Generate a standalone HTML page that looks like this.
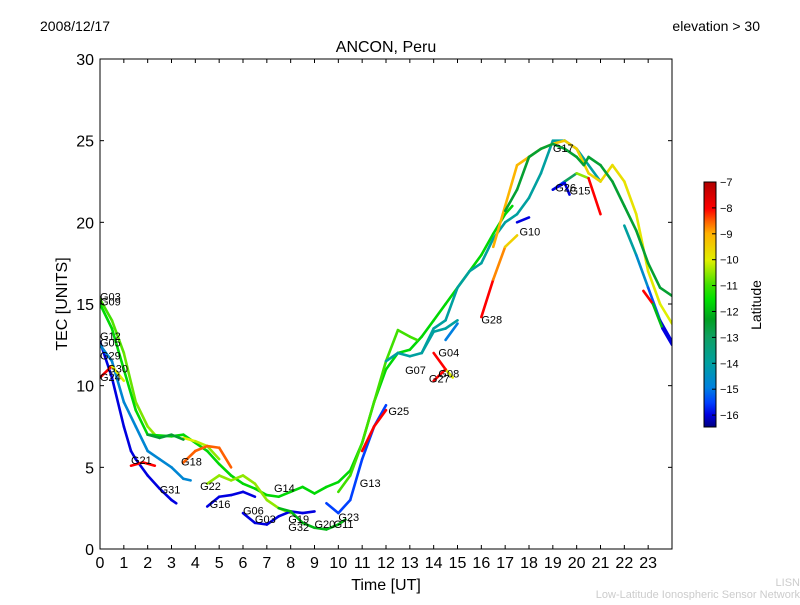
<!DOCTYPE html>
<html><head><meta charset="utf-8"><style>
body{margin:0;background:#fff;}
svg text{font-family:"Liberation Sans","DejaVu Sans",sans-serif;}
</style></head><body>
<svg id="chart" width="800" height="600">
<defs><linearGradient id="cmap" x1="0" y1="1" x2="0" y2="0">
<stop offset="0" stop-color="#000080"/><stop offset="0.05" stop-color="#0000e0"/><stop offset="0.1" stop-color="#0040ff"/><stop offset="0.16" stop-color="#0080e0"/><stop offset="0.26" stop-color="#00a0a0"/><stop offset="0.37" stop-color="#10a060"/><stop offset="0.44" stop-color="#00a020"/><stop offset="0.52" stop-color="#00e000"/><stop offset="0.58" stop-color="#40e000"/><stop offset="0.68" stop-color="#e0f000"/><stop offset="0.79" stop-color="#ffb000"/><stop offset="0.84" stop-color="#ff6000"/><stop offset="0.89" stop-color="#ff0000"/><stop offset="1" stop-color="#b00000"/></linearGradient>
<clipPath id="pc"><rect x="100" y="59" width="572" height="490"/></clipPath></defs>
<text x="40" y="31" font-size="14">2008/12/17</text>
<text x="760" y="31" font-size="14" text-anchor="end">elevation &gt; 30</text>
<text x="386" y="52" font-size="16" text-anchor="middle">ANCON, Peru</text>
<g id="tracks" clip-path="url(#pc)"></g>
<g id="labels"></g>
<rect x="100" y="59" width="572" height="490" fill="none" stroke="#000"/>
<g id="axes"></g>
<text x="386" y="590" font-size="16" text-anchor="middle">Time [UT]</text>
<text transform="translate(67,304) rotate(-90)" font-size="16" text-anchor="middle">TEC [UNITS]</text>
<rect x="704" y="182" width="12" height="245" fill="url(#cmap)" stroke="#000"/>
<g id="cbticks"></g>
<text transform="translate(761,305) rotate(-90)" font-size="14" text-anchor="middle">Latitude</text>
<text x="800" y="586" font-size="11" fill="#ccc" text-anchor="end">LISN</text>
<text x="800" y="598" font-size="11" fill="#ccc" text-anchor="end">Low-Latitude Ionospheric Sensor Network</text>
</svg>
<script>
const xTicks=[0,1,2,3,4,5,6,7,8,9,10,11,12,13,14,15,16,17,18,19,20,21,22,23];
const yTicks=[0,5,10,15,20,25,30];
const cbTicks=[-7,-8,-9,-10,-11,-12,-13,-14,-15,-16];
const trackLatStart=[-11,-11.6,-16,-14.8,-8,-10,-8.5,-10.5,-16,-16,-12,-15.5,-8,-11,-14,-8,-9,-12.5,-15.5,-16,-14,-8,-16,-8,-8,-14,-15,-8,-12.5];
const trackLatEnd=[-10.5,-11.6,-16,-14.8,-10,-10.5,-8.5,-10.5,-16,-16,-12,-15.5,-8,-11,-14,-9.5,-10,-12.5,-8,-16,-16,-16,-16,-10,-8,-14,-16,-8,-12.5];
const trackPoints=[
[[0,15.3],[0.5,14],[1,12],[1.5,9],[2,7.5],[2.3,7]],
[[0,15],[0.5,13.5],[1,11],[1.5,8.5],[2,7],[3,6.9],[3.5,7],[4,6.5],[4.5,6],[5,5.2],[5.5,4.5],[6,4],[6.5,3.7],[7,3.3],[7.5,3.2],[8,3.5],[8.5,3.8],[9,3.4],[9.5,3.8],[10,4.1],[10.5,4.8],[11,6.5],[11.5,9],[12,11],[12.5,12],[13,12.2],[13.5,13],[14,14],[14.5,15],[15,16],[15.5,17],[16,18],[16.5,19.3],[17,20.5],[17.3,21]],
[[0,12.7],[0.5,10.5],[1,7.5],[1.3,6],[1.5,5.5],[2,4.5],[2.5,3.7],[3,3],[3.2,2.8]],
[[0,12.5],[0.5,11.5],[1,9],[1.5,7.5],[2,6],[2.5,5.5],[3,5],[3.5,4.3],[3.8,4.2]],
[[0,10.5],[0.5,11.2],[1,10.3]],
[[3.5,6.8],[4,6.6],[4.5,6.3],[5,5.5]],
[[3.5,5.3],[4,6],[4.5,6.3],[5,6.2],[5.5,5]],
[[4.5,4],[5,4.5],[5.5,4.2],[6,4.5],[6.5,4],[7,3],[7.5,2.5],[8,2.2]],
[[4.5,2.6],[5,3.2],[5.5,3.3],[6,3.5],[6.5,3.2]],
[[6,2.2],[6.5,1.6],[7,1.5],[7.5,2],[8,2.3],[8.5,2.2],[9,2.3]],
[[7.5,2.5],[8,2.3],[8.5,1.6],[9,1.3],[9.5,1.2],[10,1.5],[10.3,1.8]],
[[9.5,2.8],[10,2.2],[10.5,3],[11,5.5],[11.5,7.5],[12,8.8]],
[[11,6],[11.5,7.5],[12,8.5]],
[[10,3.5],[10.5,4.5],[11,6.5],[11.5,9],[12,11.5],[12.5,13.4],[13,13],[13.3,12.8]],
[[12,11.5],[12.5,12],[13,11.8],[13.5,12],[14,13.5],[14.5,14],[15,16],[15.5,17],[16,17.5],[16.5,19],[17,20],[17.5,20.5],[18,21.5],[18.5,23],[19,25],[19.5,25],[20,24.5],[20.5,23.5],[21,22.5]],
[[16,14.2],[16.5,16.5],[17,18.5],[17.5,19.2]],
[[16.5,18.5],[17,21],[17.5,23.5],[18,24],[18.5,24.5],[19,24.8],[19.5,25],[20,24.5],[20.5,23],[21,22.5],[21.5,23.5],[22,22.5],[22.5,20.5],[23,17],[23.5,15],[24,13.8]],
[[17,20.7],[17.5,22],[18,24],[18.5,24.5],[19,24.8],[19.5,24.5],[20,24],[20.3,23.5],[20.5,24],[21,23.5],[21.5,22.5],[22,21],[22.5,19.5],[23,17.5],[23.5,16],[24,15.5]],
[[19,22],[19.5,22.5],[20,23],[20.5,22.7],[21,20.5]],
[[19,22],[19.5,22.4],[19.7,21.7]],
[[22,19.8],[22.5,18],[23,16],[23.5,14],[24,12.7]],
[[22.8,15.8],[23.2,15],[23.6,13.5],[24,12.5]],
[[17.5,20],[18,20.3]],
[[14,12],[14.5,11],[14.8,10.5]],
[[14,10.3],[14.5,11]],
[[13.5,12],[14,13.3],[14.5,13.5],[15,14]],
[[14.5,12.8],[15,13.8]],
[[1.3,5.1],[1.8,5.3],[2.3,5.1]],
[[2,7],[2.5,6.8],[3,7],[3.5,6.7]]
];
const labelNames=["G03","G09","G12","G05","G29","G30","G24","G21","G18","G31","G22","G16","G06","G03","G14","G19","G32","G20","G11","G23","G13","G25","G07","G27","G08","G04","G28","G10","G17","G26","G15"];
const labelX=[0,0,0,0,0,0.3,0,1.3,3.4,2.5,4.2,4.6,6,6.5,7.3,7.9,7.9,9,9.8,10,10.9,12.1,12.8,13.8,14.2,14.2,16,17.6,19,19.1,19.7];
const labelY=[15.2,14.9,12.8,12.4,11.6,10.8,10.3,5.2,5.1,3.4,3.6,2.5,2.1,1.6,3.5,1.6,1.1,1.3,1.3,1.7,3.8,8.2,10.7,10.2,10.5,11.8,13.8,19.2,24.3,21.9,21.7];
const X=t=>100+t*572/24, Y=v=>549-v*490/30;
const LAT=l=>427-(l+16.46)*245/9.46;
const cmLat=[-16.46,-16,-15.5,-15,-14,-13,-12.3,-11.5,-11,-10,-9,-8.5,-8,-7];
const cmRGB=[[0,0,128],[0,0,224],[0,64,255],[0,128,224],[0,160,160],[16,160,96],[0,160,32],[0,224,0],[64,224,0],[224,240,0],[255,176,0],[255,96,0],[255,0,0],[176,0,0]];
function cmap(l){l=Math.max(-16.46,Math.min(-7,l));
 for(let i=0;i<cmLat.length-1;i++){if(l>=cmLat[i]&&l<=cmLat[i+1]){const f=(l-cmLat[i])/(cmLat[i+1]-cmLat[i]);
  const c=cmRGB[i].map((v,k)=>Math.round(v+(cmRGB[i+1][k]-v)*f));return `rgb(${c[0]},${c[1]},${c[2]})`;}}
 return 'rgb(176,0,0)';}
const NS="http://www.w3.org/2000/svg";
function mk(tag,attrs,parent){const e=document.createElementNS(NS,tag);for(const k in attrs)e.setAttribute(k,attrs[k]);parent.appendChild(e);return e;}
const tg=document.getElementById('tracks');
trackPoints.forEach((pts,i)=>{const n=pts.length;
 for(let j=0;j<n-1;j++){const f=n>2?j/(n-2):0;const lat=trackLatStart[i]+(trackLatEnd[i]-trackLatStart[i])*f;
  const s=mk('line',{x1:X(pts[j][0]),y1:Y(pts[j][1]),x2:X(pts[j+1][0]),y2:Y(pts[j+1][1]),stroke:cmap(lat),'stroke-width':2.6,'stroke-linecap':'round'},tg);
  
  }});
const lg=document.getElementById('labels');
labelNames.forEach((nm,i)=>{const t=mk('text',{x:X(labelX[i]),y:Y(labelY[i]),'font-size':11},lg);t.textContent=nm;
 
 });
const ax=document.getElementById('axes');
xTicks.forEach(v=>{const x=X(v);mk('line',{x1:x,y1:549,x2:x,y2:545,stroke:'#000'},ax);mk('line',{x1:x,y1:59,x2:x,y2:63,stroke:'#000'},ax);
 const t=mk('text',{x:x,y:568,'font-size':16,'text-anchor':'middle'},ax);t.textContent=v;
 
 });
yTicks.forEach(v=>{const y=Y(v);mk('line',{x1:100,y1:y,x2:104,y2:y,stroke:'#000'},ax);mk('line',{x1:672,y1:y,x2:668,y2:y,stroke:'#000'},ax);
 const t=mk('text',{x:94,y:y+6,'font-size':16,'text-anchor':'end'},ax);t.textContent=v;
 
 });
const cg=document.getElementById('cbticks');
cbTicks.forEach(v=>{const y=LAT(v);mk('line',{x1:712,y1:y,x2:716,y2:y,stroke:'#000'},cg);
 const t=mk('text',{x:720,y:y+4,'font-size':11},cg);t.textContent='\u2212'+Math.abs(v);
 
 });
</script>
</body></html>
